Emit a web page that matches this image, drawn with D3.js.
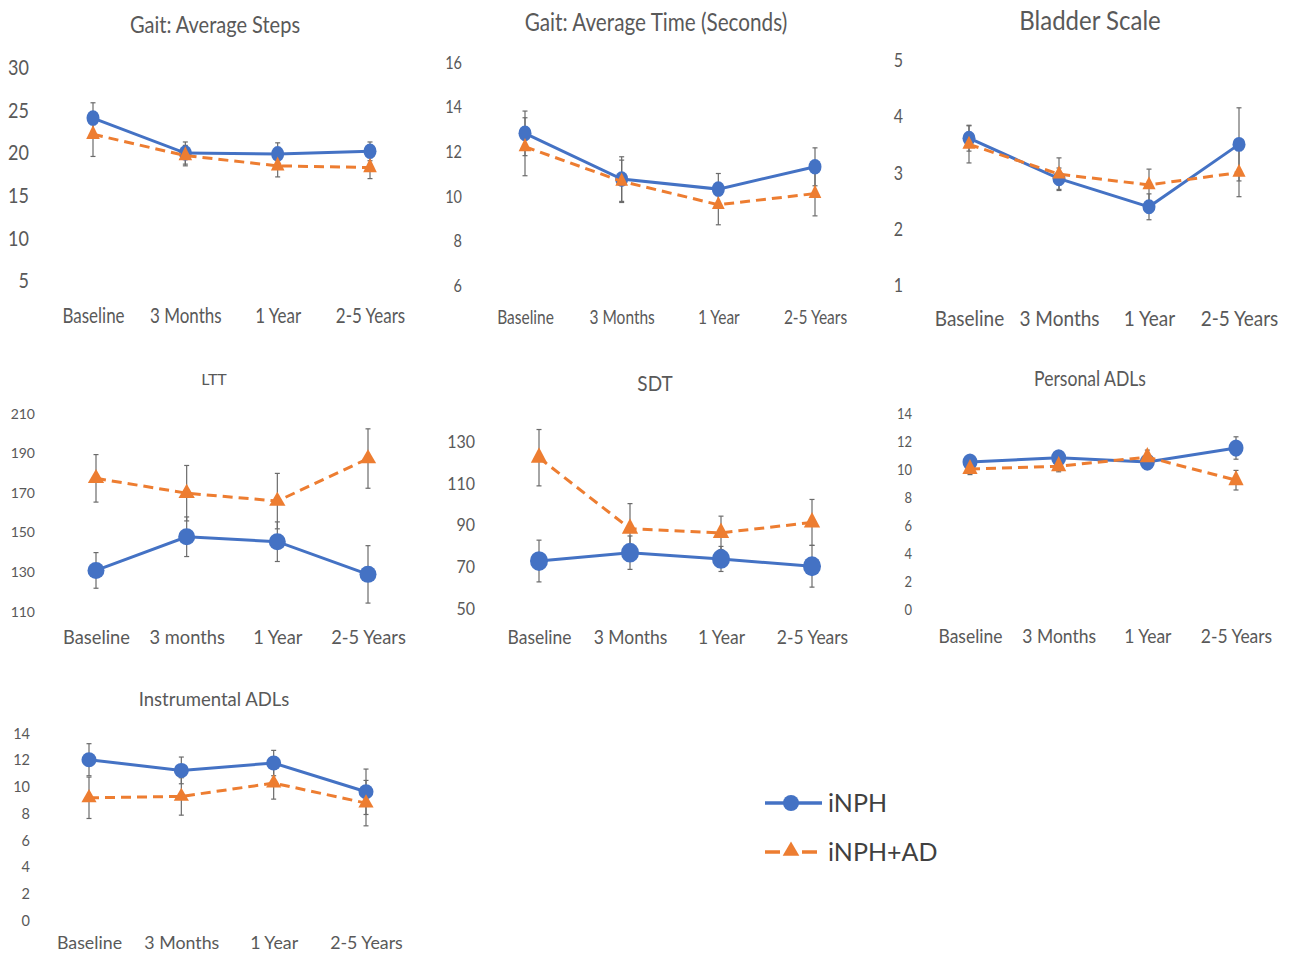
<!DOCTYPE html>
<html>
<head>
<meta charset="utf-8">
<script src="https://cdn.jsdelivr.net/npm/d3@7"></script>
<style>
  body { margin: 0; background: #fff; }
  svg { display: block; font-family: Lato, sans-serif; }
</style>
</head>
<body>
<svg id="chart" width="1289" height="955"></svg>
<script>
// Categories
const cats = ["Baseline", "3 Months", "1 Year", "2-5 Years"];
const catsLTT = ["Baseline", "3 months", "1 Year", "2-5 Years"];
const seriesNames = ["iNPH", "iNPH+AD"];

// Gait: Average Steps
const stepsTicks = [5, 10, 15, 20, 25, 30];
const stepsINPH = [24.0, 19.9, 19.8, 20.1];
const stepsINPHErr = [1.8, 1.3, 1.3, 1.1];
const stepsAD = [22.1, 19.6, 18.4, 18.2];
const stepsADErr = [2.6, 1.2, 1.3, 1.3];

// Gait: Average Time (Seconds)
const timeTicks = [6, 8, 10, 12, 14, 16];
const timeINPH = [12.8, 10.75, 10.3, 11.3];
const timeINPHErr = [1.0, 1.0, 0.7, 0.85];
const timeAD = [12.2, 10.65, 9.6, 10.1];
const timeADErr = [1.3, 0.95, 0.9, 1.0];

// Bladder Scale
const bladderTicks = [1, 2, 3, 4, 5];
const bladderINPH = [3.61, 2.89, 2.39, 3.5];
const bladderINPHErr = [0.23, 0.19, 0.23, 0.65];
const bladderAD = [3.5, 2.97, 2.78, 3.0];
const bladderADErr = [0.33, 0.29, 0.28, 0.43];

// LTT
const lttTicks = [110, 130, 150, 170, 190, 210];
const lttINPH = [130.5, 147.5, 145, 128.5];
const lttINPHErr = [9, 10, 10, 14.5];
const lttAD = [177, 169.5, 165.5, 187];
const lttADErr = [12, 14, 14, 15];

// SDT
const sdtTicks = [50, 70, 90, 110, 130];
const sdtINPH = [72.5, 76.5, 73.5, 70];
const sdtINPHErr = [10, 8, 6, 10];
const sdtAD = [122, 88, 86, 91];
const sdtADErr = [13.5, 12, 8, 11];

// Personal ADLs
const padlTicks = [0, 2, 4, 6, 8, 10, 12, 14];
const padlINPH = [10.5, 10.8, 10.5, 11.5];
const padlINPHErr = [0.4, 0.4, 0.4, 0.8];
const padlAD = [10.0, 10.2, 10.85, 9.2];
const padlADErr = [0.4, 0.4, 0.5, 0.7];

// Instrumental ADLs
const iadlTicks = [0, 2, 4, 6, 8, 10, 12, 14];
const iadlINPH = [12.0, 11.2, 11.75, 9.6];
const iadlINPHErr = [1.2, 1.0, 0.95, 1.7];
const iadlAD = [9.15, 9.25, 10.25, 8.75];
const iadlADErr = [1.55, 1.4, 1.2, 1.7];

const BLUE = "#4472C4", ORANGE = "#ED7D31", TEXT = "#595959", BAR = "#6b6b6b";

// layout of each small chart (s = vertical stretch of the pasted picture)
const panels = [
  { title: "Gait: Average Steps", cats: cats, ticks: stepsTicks, a: stepsINPH, aErr: stepsINPHErr, b: stepsAD, bErr: stepsADErr,
    x0: 93, x1: 370, yTop: 67, yBot: 280, labelX: 29, titleX: 215, titleY: 24, titleSize: 20, tickSize: 18, catSize: 17, catY: 316, s: 1.2, r: 6.5, tri: 80 },
  { title: "Gait: Average Time (Seconds)", cats: cats, ticks: timeTicks, a: timeINPH, aErr: timeINPHErr, b: timeAD, bErr: timeADErr,
    x0: 525, x1: 815, yTop: 62, yBot: 285, labelX: 462, titleX: 656, titleY: 22, titleSize: 20.7, tickSize: 14.5, catSize: 15.5, catY: 317, s: 1.2, r: 6.5, tri: 70 },
  { title: "Bladder Scale", cats: cats, ticks: bladderTicks, a: bladderINPH, aErr: bladderINPHErr, b: bladderAD, bErr: bladderADErr,
    x0: 969, x1: 1239, yTop: 60, yBot: 285, labelX: 903, titleX: 1090, titleY: 20, titleSize: 24, tickSize: 16, catSize: 19, catY: 318, s: 1.15, r: 6.5, tri: 75 },
  { title: "LTT", cats: catsLTT, ticks: lttTicks, a: lttINPH, aErr: lttINPHErr, b: lttAD, bErr: lttADErr,
    x0: 96, x1: 368, yTop: 413, yBot: 611, labelX: 35, titleX: 214, titleY: 379, titleSize: 16, tickSize: 14, catSize: 18.3, catY: 637, s: 1.0, r: 8.5, tri: 115 },
  { title: "SDT", cats: cats, ticks: sdtTicks, a: sdtINPH, aErr: sdtINPHErr, b: sdtAD, bErr: sdtADErr,
    x0: 539, x1: 812, yTop: 441, yBot: 608, labelX: 475, titleX: 655, titleY: 383, titleSize: 19, tickSize: 16, catSize: 17.5, catY: 637, s: 1.1, r: 9, tri: 115 },
  { title: "Personal ADLs", cats: cats, ticks: padlTicks, a: padlINPH, aErr: padlINPHErr, b: padlAD, bErr: padlADErr,
    x0: 970, x1: 1236, yTop: 413, yBot: 609, labelX: 912, titleX: 1090, titleY: 379, titleSize: 17.6, tickSize: 13, catSize: 17.5, catY: 636, s: 1.15, r: 7.5, tri: 100 },
  { title: "Instrumental ADLs", cats: cats, ticks: iadlTicks, a: iadlINPH, aErr: iadlINPHErr, b: iadlAD, bErr: iadlADErr,
    x0: 89, x1: 366, yTop: 733, yBot: 920, labelX: 30, titleX: 214, titleY: 699, titleSize: 18.5, tickSize: 14.5, catSize: 17.8, catY: 943, s: 1.0, r: 7.5, tri: 100 }
];

const svg = d3.select("#chart");

panels.forEach(p => {
  const g = svg.append("g");
  const x = d3.scalePoint().domain(p.cats).range([p.x0, p.x1]);
  const y = d3.scaleLinear().domain(d3.extent(p.ticks)).range([p.yBot, p.yTop]);

  // title
  g.append("text")
    .attr("transform", `translate(${p.titleX},${p.titleY}) scale(1,${p.s})`)
    .attr("text-anchor", "middle")
    .attr("dy", "0.36em")
    .attr("font-size", p.titleSize)
    .attr("fill", TEXT)
    .text(p.title);

  // y axis (labels only)
  const ya = g.append("g")
    .attr("transform", `translate(${p.labelX},0)`)
    .call(d3.axisLeft(y).tickValues(p.ticks).tickFormat(d3.format("d")).tickSize(0).tickPadding(0));
  ya.select(".domain").remove();
  ya.selectAll("text")
    .attr("font-family", "Lato, sans-serif")
    .attr("font-size", p.tickSize)
    .attr("fill", TEXT)
    .attr("dy", "0.36em")
    .attr("transform", `scale(1,${p.s})`);

  // x axis (labels only)
  const xa = g.append("g")
    .attr("transform", `translate(0,${p.catY})`)
    .call(d3.axisBottom(x).tickSize(0).tickPadding(0));
  xa.select(".domain").remove();
  xa.selectAll("text")
    .attr("font-family", "Lato, sans-serif")
    .attr("font-size", p.catSize)
    .attr("fill", TEXT)
    .attr("dy", "0.36em")
    .attr("transform", `scale(1,${p.s})`);

  // error bars
  [[p.a, p.aErr], [p.b, p.bErr]].forEach(([vals, errs]) => {
    vals.forEach((v, i) => {
      const cx = x(p.cats[i]);
      const eg = g.append("g").attr("stroke", BAR).attr("stroke-width", 1.2);
      eg.append("line").attr("x1", cx).attr("x2", cx).attr("y1", y(v - errs[i])).attr("y2", y(v + errs[i]));
      eg.append("line").attr("x1", cx - 2.5).attr("x2", cx + 2.5).attr("y1", y(v - errs[i])).attr("y2", y(v - errs[i]));
      eg.append("line").attr("x1", cx - 2.5).attr("x2", cx + 2.5).attr("y1", y(v + errs[i])).attr("y2", y(v + errs[i]));
    });
  });

  const line = d3.line()
    .x((d, i) => x(p.cats[i]))
    .y(d => y(d));

  // iNPH series
  g.append("path")
    .datum(p.a)
    .attr("fill", "none")
    .attr("stroke", BLUE)
    .attr("stroke-width", 3)
    .attr("d", line);
  g.selectAll(null)
    .data(p.a)
    .join("ellipse")
    .attr("cx", (d, i) => x(p.cats[i]))
    .attr("cy", d => y(d))
    .attr("rx", p.r)
    .attr("ry", p.r * p.s)
    .attr("fill", BLUE);

  // iNPH+AD series
  g.append("path")
    .datum(p.b)
    .attr("fill", "none")
    .attr("stroke", ORANGE)
    .attr("stroke-width", 3)
    .attr("stroke-dasharray", "10,6")
    .attr("d", line);
  g.selectAll(null)
    .data(p.b)
    .join("path")
    .attr("d", d3.symbol(d3.symbolTriangle, p.tri))
    .attr("transform", (d, i) => `translate(${x(p.cats[i])},${y(d)}) scale(1,${p.s})`)
    .attr("fill", ORANGE);
});

// Legend
const legend = svg.append("g");
legend.append("line")
  .attr("x1", 765).attr("x2", 822).attr("y1", 803).attr("y2", 803)
  .attr("stroke", BLUE).attr("stroke-width", 3.5);
legend.append("circle")
  .attr("cx", 791).attr("cy", 803).attr("r", 8)
  .attr("fill", BLUE);
legend.append("line")
  .attr("x1", 765).attr("x2", 817).attr("y1", 852).attr("y2", 852)
  .attr("stroke", ORANGE).attr("stroke-width", 3.5)
  .attr("stroke-dasharray", "15,22");
legend.append("path")
  .attr("d", d3.symbol(d3.symbolTriangle, 120))
  .attr("transform", "translate(791,851)")
  .attr("fill", ORANGE);
legend.selectAll("text")
  .data(seriesNames)
  .join("text")
  .attr("x", 828)
  .attr("y", (d, i) => 803 + i * 49)
  .attr("dy", "0.36em")
  .attr("font-size", 25)
  .attr("fill", "#404040")
  .text(d => d);
</script>
</body>
</html>
